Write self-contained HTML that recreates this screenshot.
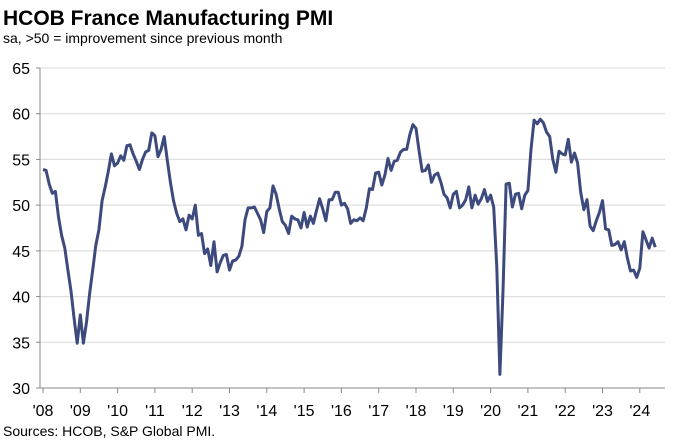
<!DOCTYPE html>
<html><head><meta charset="utf-8"><style>
body{margin:0;background:#fff;width:673px;height:441px;overflow:hidden;font-family:"Liberation Sans",Arial,sans-serif}
</style></head><body>
<svg id="s" width="673" height="441" xmlns="http://www.w3.org/2000/svg" font-family="Liberation Sans, Arial, sans-serif">
<text x="3" y="25" font-size="21" font-weight="bold" fill="#000">HCOB France Manufacturing PMI</text>
<text x="3" y="43" font-size="14" fill="#000">sa, &gt;50 = improvement since previous month</text>
<g id="grid"></g>
<text x="3" y="436" font-size="14" fill="#000">Sources: HCOB, S&amp;P Global PMI.</text>
</svg>
<script>
var s=document.getElementById('s'),g=document.getElementById('grid'),h='';
function Y(v){return 388-(v-30)*9.143}
for(var v=30;v<=65;v+=5){var y=Y(v);
 if(v>30)h+='<line x1="40" x2="665" y1="'+y+'" y2="'+y+'" stroke="#d9d9d9" stroke-width="1"/>';
 h+='<line x1="36" x2="40" y1="'+y+'" y2="'+y+'" stroke="#888"/>';
 h+='<text x="30" y="'+(y+6)+'" font-size="16" text-anchor="end" fill="#000">'+v+'</text>';}
h+='<line x1="40" x2="40" y1="'+Y(65)+'" y2="388" stroke="#888"/>';
h+='<line x1="40" x2="665" y1="388" y2="388" stroke="#888"/>';
for(var i=0;i<=16;i++){var x=43+i*37.3;
 h+='<line x1="'+x+'" x2="'+x+'" y1="388" y2="393" stroke="#888"/>';
 h+='<text x="'+x+'" y="416" font-size="16" text-anchor="middle" fill="#000">\''+String(8+i).padStart(2,'0')+'</text>';}
var d=[53.9,53.8,52.3,51.3,51.5,48.7,46.7,45.3,42.9,40.6,37.6,34.9,
38.0,34.9,37.2,40.3,42.9,45.6,47.3,50.5,52.0,53.7,55.6,54.3,
54.6,55.4,54.9,56.5,56.6,55.6,54.8,53.9,55.0,55.8,56.0,57.9,
57.6,55.3,56.1,57.5,54.9,52.5,50.5,49.1,48.2,48.5,47.3,48.9,
48.5,50.0,46.7,46.9,44.7,45.2,43.4,46.0,42.7,43.7,44.5,44.6,
42.9,43.9,44.0,44.4,45.5,48.4,49.7,49.7,49.8,49.1,48.4,47.0,
49.3,49.7,52.1,51.2,49.6,48.2,47.8,46.9,48.8,48.5,48.4,47.5,
49.2,47.6,48.8,48.0,49.4,50.7,49.6,48.3,50.6,50.6,51.4,51.4,
50.0,50.2,49.6,48.0,48.4,48.3,48.6,48.3,49.7,51.8,51.7,53.5,
53.6,52.2,53.3,55.1,53.8,54.8,54.9,55.8,56.1,56.1,57.7,58.8,
58.4,55.9,53.7,53.8,54.4,52.5,53.3,53.5,52.5,51.2,50.8,49.7,
51.2,51.5,49.7,50.0,50.6,52.0,49.7,51.1,50.1,50.7,51.7,50.4,
51.1,49.8,43.2,31.5,40.6,52.3,52.4,49.8,51.2,51.3,49.6,51.1,
51.6,56.1,59.3,58.9,59.4,59.0,58.0,57.5,55.0,53.6,55.9,55.6,
55.5,57.2,54.7,55.7,54.6,51.4,49.5,50.6,47.7,47.2,48.3,49.2,
50.5,47.4,47.3,45.6,45.7,46.0,45.1,46.0,44.2,42.8,42.9,42.1,
43.1,47.1,46.2,45.3,46.4,45.4];
var p=d.map(function(v,i){return (43+i*37.3/12).toFixed(1)+','+Y(v).toFixed(1)}).join(' ');
h+='<polyline points="'+p+'" fill="none" stroke="#3d4a7d" stroke-width="3" stroke-linejoin="round"/>';
g.innerHTML=h;
</script>
</body></html>
